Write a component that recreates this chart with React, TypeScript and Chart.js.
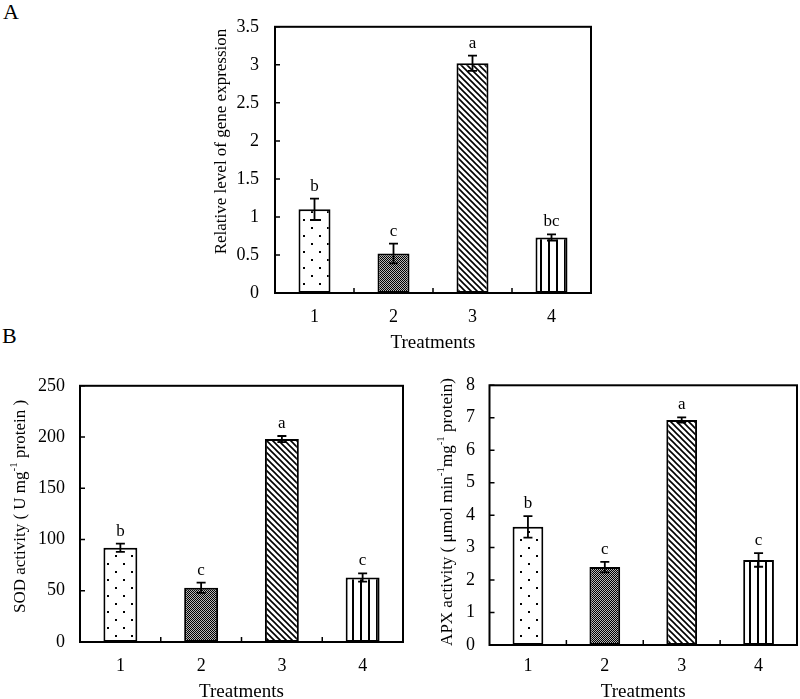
import React, { useEffect, useRef } from "react";
import { Chart, registerables } from "chart.js";

Chart.register(...registerables);

const FONT = '"Liberation Serif", "Times New Roman", serif';

const categories = ["1", "2", "3", "4"];
const xTitle = "Treatments";

const geneValues = [1.1, 0.52, 3.02, 0.73];
const geneErrors = [0.14, 0.13, 0.1, 0.04];
const geneLetters = ["b", "c", "a", "bc"];

const sodValues = [92, 53, 198, 63];
const sodErrors = [4, 5, 3, 4];
const sodLetters = ["b", "c", "a", "c"];

const apxValues = [3.64, 2.4, 6.93, 2.62];
const apxErrors = [0.33, 0.16, 0.08, 0.21];
const apxLetters = ["b", "c", "a", "c"];

type Seg = [string, boolean];

const geneTitle: Seg[] = [["Relative level of gene expression", false]];
const sodTitle: Seg[] = [
  ["SOD activity ( U mg", false],
  ["-1", true],
  [" protein )", false],
];
const apxTitle: Seg[] = [
  ["APX activity ( \u03bcmol min", false],
  ["-1", true],
  ["mg", false],
  ["-1", true],
  [" protein)", false],
];

interface PanelCfg {
  left: number;
  top: number;
  width: number;
  height: number;
  padTop: number;
  padRight: number;
  yAxisW: number;
  xAxisH: number;
  xTickPad: number;
  xTitlePad: number;
  yTickPad: number;
  yMax: number;
  yStep: number;
  values: number[];
  errors: number[];
  letters: string[];
  barPct: number;
  yTitle: Seg[];
  yTitleX: number;
  yTitleY: number;
}

function makePatterns(): CanvasPattern[] {
  const mk = (w: number, h: number, draw: (c: CanvasRenderingContext2D) => void) => {
    const c = document.createElement("canvas");
    c.width = w;
    c.height = h;
    const ctx = c.getContext("2d")!;
    ctx.fillStyle = "#fff";
    ctx.fillRect(0, 0, w, h);
    draw(ctx);
    return ctx.createPattern(c, "repeat")!;
  };
  const dots = mk(16, 16, (c) => {
    c.fillStyle = "#000";
    c.fillRect(3, 3, 2, 2);
    c.fillRect(11, 11, 2, 2);
  });
  const checker = mk(2, 2, (c) => {
    c.fillStyle = "#b8b8b8";
    c.fillRect(0, 0, 2, 2);
    c.fillStyle = "#000";
    c.fillRect(0, 0, 1, 1);
    c.fillRect(1, 1, 1, 1);
  });
  const diag = mk(6, 6, (c) => {
    c.strokeStyle = "#000";
    c.lineWidth = 1.6;
    c.beginPath();
    for (const k of [-6, 0, 6]) {
      c.moveTo(k - 1, -1);
      c.lineTo(k + 7, 7);
    }
    c.stroke();
  });
  const vert = mk(8, 1, (c) => {
    c.fillStyle = "#000";
    c.fillRect(0, 0, 2, 1);
  });
  return [dots, checker, diag, vert];
}

function Panel({ cfg }: { cfg: PanelCfg }) {
  const ref = useRef<HTMLCanvasElement | null>(null);
  useEffect(() => {
    const canvas = ref.current!;
    const patterns = makePatterns();
    const decor = {
      id: "panelDecor",
      afterDatasetsDraw(chart: any) {
        const ctx: CanvasRenderingContext2D = chart.ctx;
        const { left, right, top, bottom } = chart.chartArea;
        const xs = chart.scales.x;
        const ys = chart.scales.y;
        ctx.save();
        const meta = chart.getDatasetMeta(0);
        ctx.strokeStyle = "#000";
        ctx.fillStyle = "#000";
        meta.data.forEach((el: any, i: number) => {
          const v = cfg.values[i];
          const e = cfg.errors[i];
          const yT = ys.getPixelForValue(v + e);
          const yB = ys.getPixelForValue(v - e);
          const x = el.x;
          ctx.lineWidth = 1.8;
          ctx.beginPath();
          ctx.moveTo(x, yT);
          ctx.lineTo(x, yB);
          ctx.moveTo(x - 4.5, yT);
          ctx.lineTo(x + 4.5, yT);
          ctx.moveTo(x - 4.5, yB);
          ctx.lineTo(x + 4.5, yB);
          ctx.stroke();
          ctx.font = `17px ${FONT}`;
          ctx.textAlign = "center";
          ctx.textBaseline = "alphabetic";
          ctx.fillText(cfg.letters[i], x, yT - 8);
        });
        // frame
        ctx.lineWidth = 2;
        ctx.strokeRect(left, top, right - left, bottom - top);
        // inward ticks
        ctx.lineWidth = 1.5;
        ctx.beginPath();
        ys.ticks.forEach((t: any) => {
          const y = ys.getPixelForValue(t.value);
          ctx.moveTo(left, y);
          ctx.lineTo(left + 5, y);
        });
        for (let i = 0; i < categories.length - 1; i++) {
          const x = (xs.getPixelForValue(i) + xs.getPixelForValue(i + 1)) / 2;
          ctx.moveTo(x, bottom);
          ctx.lineTo(x, bottom - 5);
        }
        ctx.stroke();
        // y title with superscripts
        ctx.translate(cfg.yTitleX, cfg.yTitleY);
        ctx.rotate(-Math.PI / 2);
        const mainF = `17px ${FONT}`;
        const supF = `11px ${FONT}`;
        let total = 0;
        cfg.yTitle.forEach(([t, s]) => {
          ctx.font = s ? supF : mainF;
          total += ctx.measureText(t).width;
        });
        let px = -total / 2;
        ctx.textAlign = "left";
        ctx.textBaseline = "middle";
        cfg.yTitle.forEach(([t, s]) => {
          ctx.font = s ? supF : mainF;
          ctx.fillText(t, px, s ? -6 : 0);
          px += ctx.measureText(t).width;
        });
        ctx.restore();
      },
    };
    const chart = new Chart(canvas, {
      type: "bar",
      data: {
        labels: categories,
        datasets: [
          {
            data: cfg.values,
            backgroundColor: patterns as any,
            borderColor: "#000",
            borderWidth: 2,
            borderSkipped: false,
            barPercentage: cfg.barPct,
            categoryPercentage: 1,
          },
        ],
      },
      options: {
        animation: false,
        responsive: false,
        maintainAspectRatio: false,
        layout: { padding: { top: cfg.padTop, right: cfg.padRight, left: 0, bottom: 0 } },
        plugins: { legend: { display: false }, tooltip: { enabled: false } },
        scales: {
          x: {
            type: "category",
            offset: true,
            grid: { display: false, drawTicks: false },
            border: { display: false },
            ticks: {
              font: { family: FONT, size: 18 },
              color: "#000",
              padding: cfg.xTickPad,
              maxRotation: 0,
            },
            title: {
              display: true,
              text: xTitle,
              font: { family: FONT, size: 19 },
              color: "#000",
              padding: { top: 0, bottom: cfg.xTitlePad },
            },
            afterFit: (s: any) => {
              s.height = cfg.xAxisH;
            },
          },
          y: {
            min: 0,
            max: cfg.yMax,
            grid: { display: false, drawTicks: false },
            border: { display: false },
            ticks: {
              stepSize: cfg.yStep,
              font: { family: FONT, size: 18 },
              color: "#000",
              padding: cfg.yTickPad,
              callback: (v: any) => String(Number(Number(v).toFixed(2))),
            },
            afterFit: (s: any) => {
              s.width = cfg.yAxisW;
            },
          },
        },
      },
      plugins: [decor],
    } as any);
    return () => chart.destroy();
  }, [cfg]);
  return (
    <canvas
      ref={ref}
      width={cfg.width}
      height={cfg.height}
      style={{
        position: "absolute",
        left: cfg.left,
        top: cfg.top,
        width: cfg.width,
        height: cfg.height,
        display: "block",
      }}
    />
  );
}

const panelA: PanelCfg = {
  left: 180,
  top: 0,
  width: 420,
  height: 380,
  padTop: 13,
  padRight: 9,
  yAxisW: 95,
  xAxisH: 87,
  xTickPad: 13,
  xTitlePad: 26,
  yTickPad: 16,
  yMax: 3.5,
  yStep: 0.5,
  values: geneValues,
  errors: geneErrors,
  letters: geneLetters,
  barPct: 0.405,
  yTitle: geneTitle,
  yTitleX: 42,
  yTitleY: 141.5,
};

const panelSOD: PanelCfg = {
  left: 0,
  top: 360,
  width: 410,
  height: 360,
  padTop: 19,
  padRight: 7,
  yAxisW: 80,
  xAxisH: 78,
  xTickPad: 13,
  xTitlePad: 17,
  yTickPad: 15,
  yMax: 250,
  yStep: 50,
  values: sodValues,
  errors: sodErrors,
  letters: sodLetters,
  barPct: 0.42,
  yTitle: sodTitle,
  yTitleX: 20.5,
  yTitleY: 146.5,
};

const panelAPX: PanelCfg = {
  left: 405,
  top: 360,
  width: 395,
  height: 360,
  padTop: 15,
  padRight: 3,
  yAxisW: 84.5,
  xAxisH: 75,
  xTickPad: 10.7,
  xTitlePad: 17,
  yTickPad: 14.5,
  yMax: 8,
  yStep: 1,
  values: apxValues,
  errors: apxErrors,
  letters: apxLetters,
  barPct: 0.4,
  yTitle: apxTitle,
  yTitleX: 42.5,
  yTitleY: 152,
};

export default function App() {
  const labelStyle: React.CSSProperties = {
    position: "absolute",
    fontFamily: FONT,
    fontSize: 22,
    lineHeight: "22px",
    color: "#000",
  };
  return (
    <div
      style={{
        position: "fixed",
        left: 0,
        top: 0,
        width: 800,
        height: 699,
        overflow: "hidden",
        background: "#fff",
      }}
    >
      <div style={{ ...labelStyle, left: 3, top: 1 }}>A</div>
      <div style={{ ...labelStyle, left: 2, top: 325 }}>B</div>
      <Panel cfg={panelA} />
      <Panel cfg={panelSOD} />
      <Panel cfg={panelAPX} />
    </div>
  );
}
